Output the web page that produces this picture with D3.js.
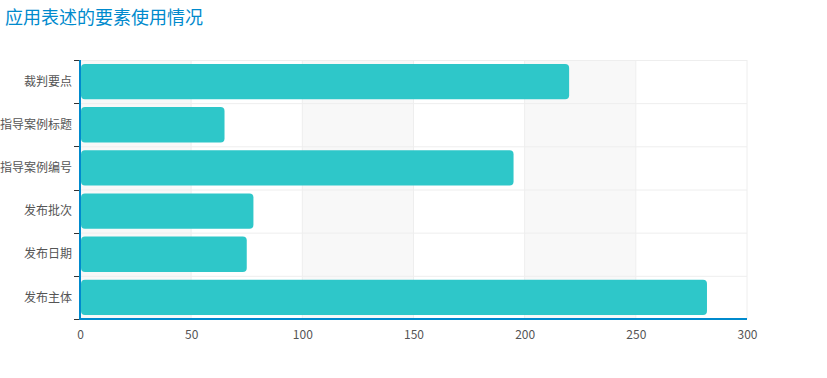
<!DOCTYPE html>
<html>
<head>
<meta charset="utf-8">
<script src="https://cdn.jsdelivr.net/npm/d3@7"></script>
<style>
  body { margin: 0; background: #fff; font-family: "Noto Sans CJK SC", "Noto Sans", sans-serif; }
  .axis text { font-size: 12px; fill: #555; font-family: "Noto Sans CJK SC", "Noto Sans", sans-serif; }
</style>
</head>
<body>
<div id="chart"></div>
<script>
// Data
var categories = ["裁判要点", "指导案例标题", "指导案例编号", "发布批次", "发布日期", "发布主体"];
var values = [220, 65, 195, 78, 75, 282];
var xTicks = [0, 50, 100, 150, 200, 250, 300];

var width = 827;
var height = 378;
var margins = { top: 60, right: 80, bottom: 59, left: 80 };
var chartWidth = width - margins.left - margins.right;
var chartHeight = height - margins.top - margins.bottom;

var data = categories.map((c, i) => ({ label: c, value: values[i] }));

var svg = d3.select("#chart").append("svg").attr("width", width).attr("height", height);

// Title
svg
  .append("text")
  .attr("x", 5)
  .attr("y", 24)
  .attr("fill", "#008acd")
  .style("font-size", "18px")
  .text("应用表述的要素使用情况");

var chartElement = svg.append("g").attr("transform", `translate(${margins.left},${margins.top})`);

var xScale = d3.scaleLinear().domain([0, 300]).range([0, chartWidth]);
var yScale = d3.scaleBand().domain(categories).range([0, chartHeight]).paddingInner(0.18).paddingOuter(0.09);
var bandStep = yScale.step();

// split areas (alternating shading)
chartElement
  .selectAll(".split")
  .data(xTicks.slice(0, -1))
  .enter()
  .append("rect")
  .attr("x", (d) => xScale(d))
  .attr("y", 0)
  .attr("width", (d, i) => xScale(xTicks[i + 1]) - xScale(d))
  .attr("height", chartHeight)
  .attr("fill", (d, i) => (i % 2 == 0 ? "#f8f8f8" : "#fff"));

// vertical grid
chartElement
  .selectAll(".vgrid")
  .data(xTicks.slice(1))
  .enter()
  .append("line")
  .attr("x1", (d) => xScale(d))
  .attr("x2", (d) => xScale(d))
  .attr("y1", 0)
  .attr("y2", chartHeight)
  .attr("stroke", "#eee");

// horizontal grid at band boundaries
chartElement
  .selectAll(".hgrid")
  .data(d3.range(categories.length))
  .enter()
  .append("line")
  .attr("x1", 0)
  .attr("x2", chartWidth)
  .attr("y1", (d) => d * bandStep + 0.5)
  .attr("y2", (d) => d * bandStep + 0.5)
  .attr("stroke", "#eee");

// bars
chartElement
  .selectAll(".bar")
  .data(data)
  .enter()
  .append("rect")
  .attr("x", 1)
  .attr("y", (d) => yScale(d.label))
  .attr("width", (d) => xScale(d.value) - 1)
  .attr("height", yScale.bandwidth())
  .attr("rx", 4)
  .attr("fill", "#2ec7c9");

// y axis
var yAxis = chartElement.append("g").attr("class", "y axis");
yAxis
  .selectAll(".tick-mark")
  .data(d3.range(categories.length + 1))
  .enter()
  .append("line")
  .attr("x1", -6)
  .attr("x2", 0)
  .attr("y1", (d) => Math.round(d * bandStep) + 0.5)
  .attr("y2", (d) => Math.round(d * bandStep) + 0.5)
  .attr("stroke", "#333");
yAxis
  .selectAll(".label")
  .data(categories)
  .enter()
  .append("text")
  .attr("x", -8)
  .attr("y", (d) => yScale(d) + yScale.bandwidth() / 2)
  .attr("dy", "0.35em")
  .attr("text-anchor", "end")
  .text((d) => d);
yAxis
  .append("line")
  .attr("x1", 0)
  .attr("x2", 0)
  .attr("y1", 0)
  .attr("y2", chartHeight + 1)
  .attr("stroke", "#008acd")
  .attr("stroke-width", 2);

// x axis
var xAxis = d3.axisBottom(xScale).tickValues(xTicks).tickSize(0).tickPadding(11);
var xg = chartElement.append("g").attr("class", "x axis").attr("transform", `translate(0,${chartHeight})`).call(xAxis);
xg.select(".domain").remove();
xg
  .append("line")
  .attr("x1", -1)
  .attr("x2", chartWidth)
  .attr("y1", 0)
  .attr("y2", 0)
  .attr("stroke", "#008acd")
  .attr("stroke-width", 2);
</script>
</body>
</html>
